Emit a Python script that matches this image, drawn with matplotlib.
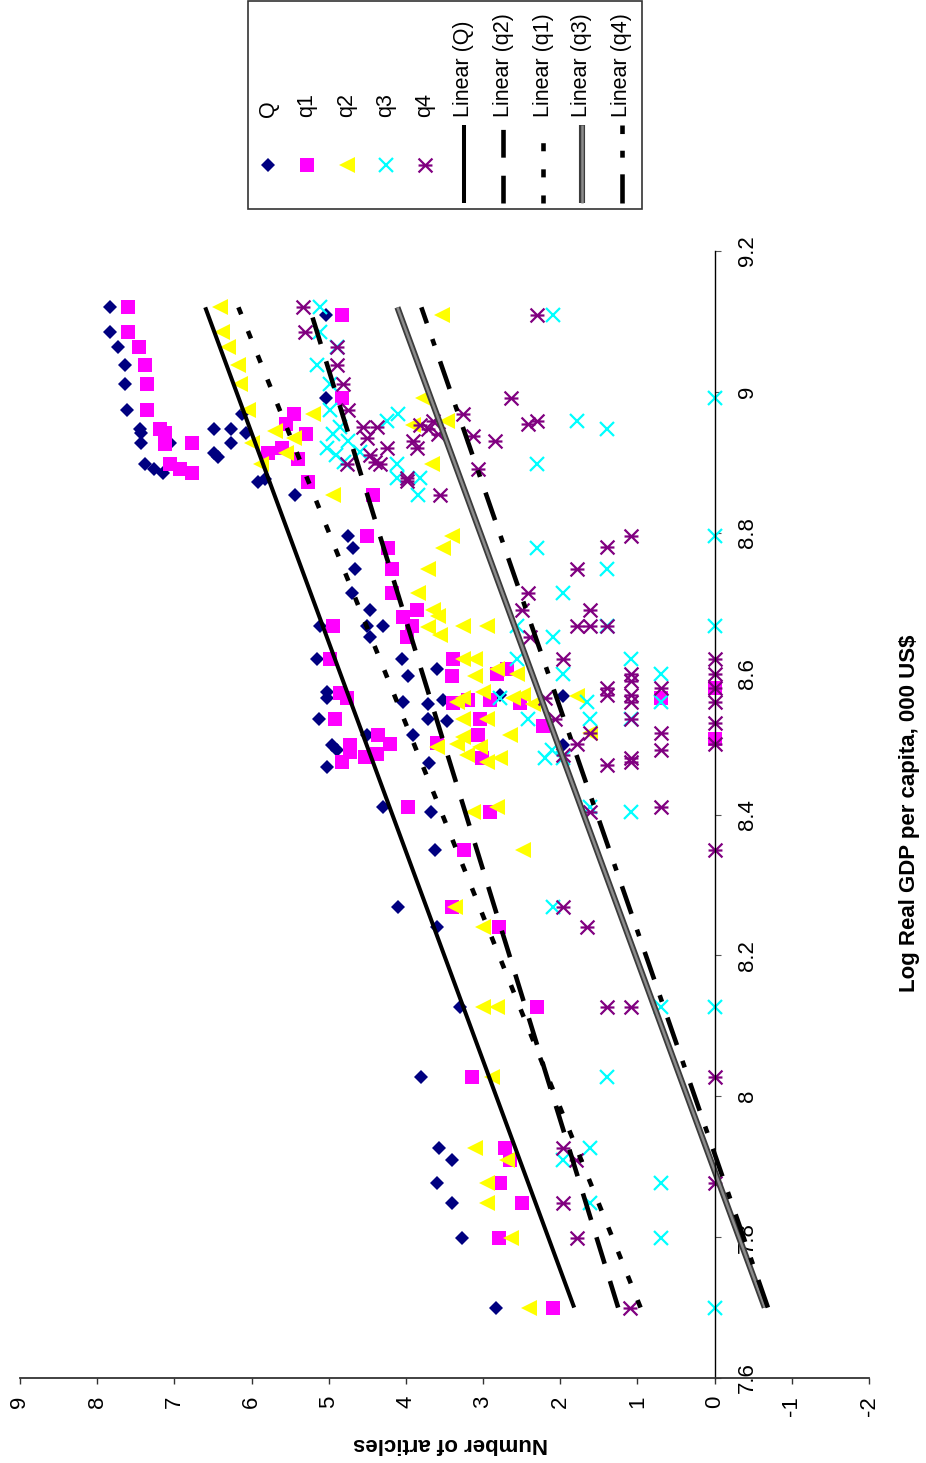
import matplotlib
matplotlib.use("Agg")
import matplotlib.pyplot as plt
from matplotlib.path import Path
from matplotlib.patches import Rectangle

plt.rcParams["font.family"] = ["Liberation Sans", "DejaVu Sans"]
plt.rcParams["axes.unicode_minus"] = False
plt.rcParams["lines.scale_dashes"] = False

# ---- data (log GDP per capita, number of articles) ----
Q_GDP = [9.120, 9.109, 9.085, 9.064, 9.038, 9.011, 8.991, 8.974, 8.969, 8.948,
         8.948, 8.942, 8.948, 8.942, 8.928, 8.928, 8.928, 8.913, 8.908, 8.897,
         8.891, 8.885, 8.872, 8.876, 8.853, 8.796, 8.779, 8.749, 8.714, 8.690,
         8.668, 8.668, 8.668, 8.652, 8.621, 8.621, 8.607, 8.597, 8.574, 8.566,
         8.560, 8.557, 8.562, 8.569, 8.568, 8.536, 8.536, 8.533, 8.513, 8.513,
         8.499, 8.492, 8.468, 8.473, 8.499, 8.411, 8.404, 8.349, 8.268, 8.240,
         8.127, 8.028, 7.926, 7.909, 7.877, 7.848, 7.799, 7.700]
Q_ART = [7.83, 5.03, 7.83, 7.73, 7.64, 7.64, 5.03, 7.62, 6.13, 6.48,
         6.26, 6.07, 7.44, 7.43, 7.43, 7.06, 6.26, 6.48, 6.43, 7.38,
         7.27, 7.15, 5.91, 5.82, 5.44, 4.75, 4.68, 4.66, 4.70, 4.46,
         4.50, 4.30, 5.11, 4.46, 5.15, 4.05, 3.60, 3.97, 5.02, 5.02,
         4.04, 3.72, 3.52, 2.78, 1.96, 5.12, 3.72, 3.47, 4.50, 3.91,
         4.96, 4.89, 5.02, 3.70, 1.96, 4.30, 3.67, 3.62, 4.10, 3.60,
         3.30, 3.80, 3.57, 3.40, 3.60, 3.40, 3.27, 2.83]

Q1_GDP = [9.120, 9.109, 9.085, 9.064, 9.038, 9.011, 8.991, 8.974, 8.969, 8.955,
          8.948, 8.942, 8.940, 8.928, 8.926, 8.920, 8.913, 8.905, 8.897, 8.891,
          8.885, 8.872, 8.853, 8.796, 8.779, 8.749, 8.714, 8.690, 8.680, 8.668,
          8.668, 8.652, 8.621, 8.621, 8.597, 8.600, 8.607, 8.580, 8.572, 8.566,
          8.566, 8.559, 8.562, 8.562, 8.559, 8.536, 8.536, 8.526, 8.513, 8.513,
          8.507, 8.502, 8.500, 8.499, 8.489, 8.486, 8.482, 8.480, 8.475, 8.411,
          8.404, 8.349, 8.268, 8.240, 8.127, 8.028, 7.926, 7.909, 7.877, 7.848,
          7.799, 7.700]
Q1_ART = [7.60, 4.83, 7.60, 7.46, 7.38, 7.35, 4.83, 7.35, 5.45, 5.55,
          7.18, 7.12, 5.30, 6.77, 7.12, 5.60, 5.79, 5.40, 7.06, 6.93,
          6.77, 5.27, 4.43, 4.50, 4.23, 4.18, 4.18, 3.85, 4.04, 3.92,
          4.94, 3.98, 4.98, 3.39, 3.40, 2.82, 2.69, 0.00, 4.85, 4.76,
          0.69, 3.39, 3.19, 2.91, 2.52, 4.92, 3.04, 2.22, 4.36, 3.06,
          0.00, 3.60, 4.20, 4.72, 4.72, 4.37, 4.53, 3.01, 4.83, 3.97,
          2.91, 3.25, 3.40, 2.79, 2.30, 3.14, 2.71, 2.65, 2.78, 2.49,
          2.79, 2.09]

Q2_GDP = [9.120, 9.109, 9.085, 9.064, 9.038, 9.011, 8.991, 8.974, 8.969, 8.959,
          8.953, 8.945, 8.935, 8.928, 8.913, 8.897, 8.897, 8.853, 8.796, 8.779,
          8.749, 8.714, 8.690, 8.682, 8.668, 8.668, 8.666, 8.655, 8.621, 8.621,
          8.606, 8.600, 8.597, 8.574, 8.569, 8.568, 8.565, 8.565, 8.560, 8.557,
          8.536, 8.535, 8.515, 8.513, 8.510, 8.500, 8.496, 8.496, 8.485, 8.480,
          8.475, 8.410, 8.404, 8.349, 8.268, 8.240, 8.127, 8.127, 8.028, 7.926,
          7.909, 7.877, 7.848, 7.799, 7.700]
Q2_ART = [6.41, 3.53, 6.38, 6.30, 6.17, 6.15, 3.78, 6.04, 5.20, 3.47,
          3.91, 5.70, 5.45, 6.00, 5.56, 5.88, 3.66, 4.94, 3.40, 3.52,
          3.72, 3.84, 3.65, 3.58, 3.26, 2.95, 3.72, 3.56, 3.26, 3.10,
          2.82, 2.56, 3.10, 3.00, 2.48, 1.78, 2.61, 3.26, 3.34, 2.35,
          3.26, 2.95, 1.61, 2.65, 3.26, 3.34, 3.60, 3.04, 3.21, 2.78,
          2.95, 2.82, 3.13, 2.48, 3.36, 3.00, 3.00, 2.82, 2.88, 3.10,
          2.69, 2.95, 2.95, 2.64, 2.40]

Q3_GDP = [9.120, 9.109, 9.085, 9.064, 9.038, 9.011, 8.991, 8.974, 8.969, 8.959,
          8.959, 8.950, 8.948, 8.940, 8.930, 8.920, 8.915, 8.910, 8.900, 8.897,
          8.897, 8.878, 8.878, 8.853, 8.796, 8.779, 8.749, 8.714, 8.668, 8.668,
          8.668, 8.652, 8.621, 8.621, 8.600, 8.600, 8.566, 8.560, 8.560, 8.536,
          8.536, 8.536, 8.492, 8.480, 8.480, 8.410, 8.404, 8.268, 8.127, 8.127,
          8.028, 7.926, 7.909, 7.877, 7.848, 7.799, 7.700]
Q3_ART = [5.11, 2.09, 5.11, 4.89, 5.15, 4.98, 0.00, 4.98, 4.10, 4.24,
          1.78, 4.85, 1.39, 4.95, 4.75, 5.02, 4.60, 4.90, 4.80, 4.11,
          2.30, 4.11, 3.82, 3.84, 0.00, 2.30, 1.39, 1.96, 0.00, 1.39,
          2.56, 2.09, 2.56, 1.09, 1.96, 0.69, 2.78, 1.65, 0.69, 2.42,
          1.61, 1.09, 2.11, 2.20, 1.96, 1.61, 1.09, 2.09, 0.69, 0.00,
          1.39, 1.61, 1.96, 0.69, 1.61, 0.69, 0.00]

Q4_GDP = [9.120, 9.109, 9.085, 9.064, 9.038, 9.011, 8.991, 8.974, 8.969, 8.959,
          8.959, 8.955, 8.953, 8.950, 8.950, 8.948, 8.940, 8.938, 8.935, 8.930,
          8.930, 8.920, 8.920, 8.910, 8.900, 8.898, 8.897, 8.890, 8.878, 8.873,
          8.853, 8.796, 8.780, 8.749, 8.714, 8.690, 8.690, 8.668, 8.668, 8.668,
          8.652, 8.621, 8.621, 8.600, 8.600, 8.590, 8.580, 8.580, 8.580, 8.570,
          8.570, 8.566, 8.560, 8.560, 8.536, 8.536, 8.530, 8.515, 8.515, 8.500,
          8.500, 8.492, 8.485, 8.480, 8.475, 8.470, 8.410, 8.404, 8.350, 8.268,
          8.240, 8.127, 8.127, 8.028, 7.926, 7.909, 7.877, 7.848, 7.799, 7.700]
Q4_ART = [5.33, 2.30, 5.31, 4.89, 4.89, 4.81, 2.64, 4.75, 3.26, 2.30,
          3.65, 2.42, 3.82, 4.55, 4.37, 3.72, 3.58, 3.13, 4.50, 3.91,
          2.84, 3.85, 4.24, 4.46, 4.40, 4.34, 4.76, 3.06, 3.98, 3.98,
          3.56, 1.09, 1.39, 1.78, 2.42, 2.49, 1.61, 1.61, 1.39, 1.78,
          2.39, 1.96, 0.00, 1.09, 0.00, 1.09, 0.69, 1.39, 0.00, 1.39,
          1.09, 2.20, 1.09, 0.00, 2.07, 1.09, 0.00, 1.61, 0.69, 1.78,
          0.00, 0.69, 1.96, 1.09, 1.09, 1.39, 0.69, 1.61, 0.00, 1.96,
          1.66, 1.39, 1.09, 0.00, 1.96, 1.79, 0.00, 1.96, 1.78, 1.10]

# linear trend lines, value at each end of the GDP range
TREND_GDP = [7.70, 9.12]
TREND_Q = [1.82, 6.60]
TREND_Q1 = [0.96, 6.17]
TREND_Q2 = [1.25, 5.25]
TREND_Q3 = [-0.65, 4.11]
TREND_Q4 = [-0.69, 3.80]

GDP_TICKS = [7.6, 7.8, 8.0, 8.2, 8.4, 8.6, 8.8, 9.0, 9.2]
GDP_TICK_LABELS = ["7.6", "7.8", "8", "8.2", "8.4", "8.6", "8.8", "9", "9.2"]
ART_TICKS = [9, 8, 7, 6, 5, 4, 3, 2, 1, 0, -1, -2]

# ---- styles ----
STAR = Path([(-1, -1), (1, 1), (-1, 1), (1, -1), (-1, 0), (1, 0)],
            [Path.MOVETO, Path.LINETO] * 3)
MARKERS = {
    "Q": dict(marker="D", ms=7.2, color="#000080", mew=0),
    "q1": dict(marker="s", ms=10, color="#FF00FF", mew=0),
    "q2": dict(marker="<", ms=11, color="#FFFF00", mew=0),
    "q3": dict(marker="x", ms=9.6, color="#00FFFF", mew=1.6),
    "q4": dict(marker=STAR, ms=10, color="#800080", mew=1.6),
}
TRENDS = {
    "Q": [dict(color="black", lw=2.9, ls="-")],
    "q2": [dict(color="black", lw=3.3, ls=(0, (20, 13)))],
    "q1": [dict(color="black", lw=3.3, ls=(0, (5.8, 13)))],
    "q3": [dict(color="#3c3c3c", lw=4.4, ls="-"),
           dict(color="#8c8c8c", lw=1.8, ls="-")],
    "q4": [dict(color="black", lw=3.3, ls=(0, (21, 12, 5, 12)))],
}

fig = plt.figure(figsize=(9.26, 14.63), dpi=100)
ax = fig.add_axes([20 / 926, 85 / 1463, 849 / 926, 1127 / 1463])

series = [("Q", Q_GDP, Q_ART), ("q1", Q1_GDP, Q1_ART), ("q2", Q2_GDP, Q2_ART),
          ("q3", Q3_GDP, Q3_ART), ("q4", Q4_GDP, Q4_ART)]
for name, gdp, art in series:
    ax.plot(art, gdp, ls="none", clip_on=False, **MARKERS[name])

trends = [("Q", TREND_Q), ("q2", TREND_Q2), ("q1", TREND_Q1),
          ("q3", TREND_Q3), ("q4", TREND_Q4)]
for name, vals in trends:
    for st in TRENDS[name]:
        ax.plot(vals, TREND_GDP, solid_capstyle="butt", dash_capstyle="butt", **st)

ax.set_xlim(9, -2)
ax.set_ylim(7.6, 9.2)
ax.spines["top"].set_visible(False)
ax.spines["left"].set_visible(False)
ax.spines["right"].set_position(("data", 0))
ax.spines["right"].set_linewidth(1.0)
ax.spines["bottom"].set_linewidth(1.3)
ax.spines["bottom"].set_color("#333333")

ax.yaxis.tick_right()
ax.set_yticks(GDP_TICKS)
ax.set_yticklabels(GDP_TICK_LABELS, rotation=90, fontsize=16)
for lbl in ax.get_yticklabels():
    lbl.set_va("center")
    lbl.set_ha("left")
ax.tick_params(axis="y", direction="out", length=4.3, width=0.8, color="#555555", pad=12)

ax.set_xticks(ART_TICKS)
ax.set_xticklabels([str(t) for t in ART_TICKS], rotation=90, fontsize=16)
ax.tick_params(axis="x", direction="out", length=4.3, width=1.0, color="#333333", pad=8.5)

fig.text(451 / 926, 1 - 1443 / 1463, "Number of articles", rotation=180,
         ha="center", va="center", fontsize=16, fontweight="bold")
fig.text(910 / 926, 1 - 813 / 1463, "Log Real GDP per capita, 000 US$", rotation=90,
         ha="center", va="center", fontsize=16, fontweight="bold")

# ---- legend, drawn by hand in pixel coordinates (text is rotated) ----
lax = fig.add_axes([0, 0, 1, 1])
lax.set_xlim(0, 926)
lax.set_ylim(1463, 0)
lax.axis("off")
lax.add_patch(Rectangle((248, 1), 394, 208, fill=False, ec="#333333", lw=1.2))

legend_x = [268, 307, 347, 386, 425, 464, 503, 543, 582, 622]
labels = ["Q", "q1", "q2", "q3", "q4",
          "Linear (Q)", "Linear (q2)", "Linear (q1)", "Linear (q3)", "Linear (q4)"]
for i, name in enumerate(["Q", "q1", "q2", "q3", "q4"]):
    lax.plot([legend_x[i]], [165], ls="none", **MARKERS[name])
for j, name in enumerate(["Q", "q2", "q1", "q3", "q4"]):
    x = legend_x[5 + j]
    for st in TRENDS[name]:
        lax.plot([x, x], [203, 125], solid_capstyle="butt", dash_capstyle="butt", **st)
for x, lab in zip(legend_x, labels):
    lax.text(x, 117, lab, rotation=90, ha="center", va="bottom", fontsize=15.5)

fig.savefig("out.png", dpi=100)
